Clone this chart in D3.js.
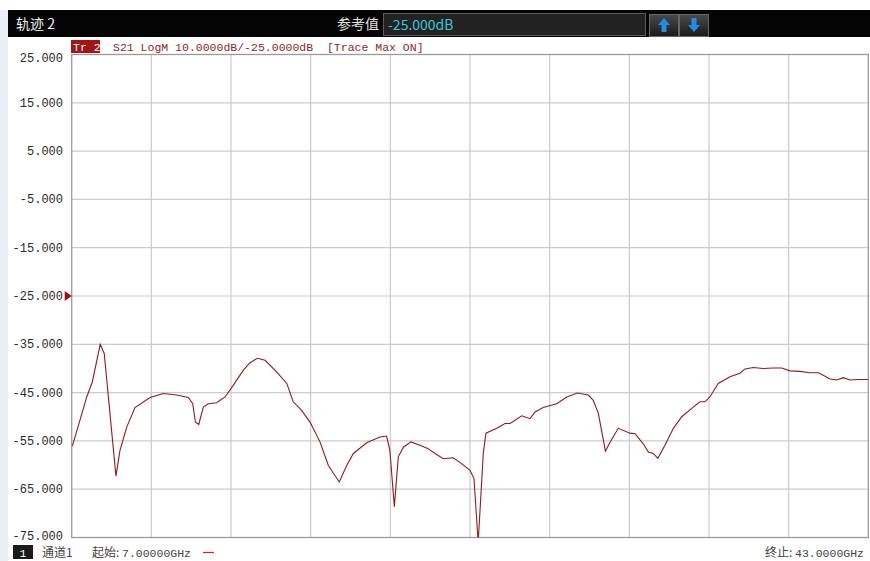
<!DOCTYPE html>
<html>
<head>
<meta charset="utf-8">
<script src="https://cdn.jsdelivr.net/npm/d3@7"></script>
<style>
  body { margin: 0; background: #fff; }
  svg { display: block; }
</style>
</head>
<body>
<div id="chart"></div>
<script>
// trace data (GHz / dB)
const freqGHz = [
  7.03, 7.68, 7.93, 8.29, 8.47, 9.00, 9.18, 9.49, 9.86, 10.54,
  11.14, 11.74, 12.27, 12.47, 12.59, 12.74, 12.95, 13.17, 13.55, 13.93,
  14.30, 14.75, 15.06, 15.39, 15.74, 16.26, 16.72, 17.01, 17.39, 17.77,
  18.22, 18.60, 19.09, 19.43, 19.73, 20.33, 20.93, 21.23, 21.38, 21.58,
  21.76, 21.99, 22.33, 22.74, 23.11, 23.42, 23.79, 24.24, 24.62, 25.00,
  25.18, 25.37, 25.53, 25.60, 25.72, 26.21, 26.58, 26.81, 27.34, 27.71,
  27.94, 28.31, 28.92, 29.37, 29.85, 30.35, 30.57, 30.80, 31.12, 31.40,
  31.70, 32.23, 32.46, 32.83, 33.06, 33.28, 33.49, 33.81, 34.19, 34.57,
  35.09, 35.39, 35.62, 35.84, 36.22, 36.75, 37.20, 37.43, 37.80, 38.25,
  38.71, 39.09, 39.46, 39.91, 40.36, 40.74, 40.96, 41.27, 41.57, 41.87,
  42.17, 42.55, 43.00
];
const s21dB = [
  -56.1, -45.9, -42.8, -35.0, -36.9, -62.3, -57.0, -52.1, -48.1, -46.0,
  -45.2, -45.5, -46.0, -47.3, -51.1, -51.6, -48.0, -47.3, -47.1, -45.9,
  -43.5, -40.4, -38.8, -37.9, -38.3, -40.7, -43.1, -46.9, -48.7, -51.1,
  -55.2, -60.1, -63.5, -60.1, -57.6, -55.4, -54.2, -54.0, -57.0, -68.6,
  -58.3, -56.3, -55.2, -55.9, -56.6, -57.6, -58.7, -58.5, -59.7, -61.1,
  -62.8, -76.0, -63.2, -57.6, -53.4, -52.4, -51.4, -51.4, -49.8, -50.4,
  -49.0, -48.1, -47.3, -45.9, -45.1, -45.5, -46.6, -49.3, -57.1, -54.7,
  -52.4, -53.4, -53.5, -55.6, -57.3, -57.6, -58.6, -55.9, -52.4, -50.0,
  -48.0, -46.9, -46.9, -45.9, -43.1, -41.7, -41.0, -40.1, -39.8, -40.0,
  -39.9, -39.9, -40.5, -40.6, -40.9, -40.9, -41.4, -42.2, -42.4, -41.9,
  -42.4, -42.3, -42.3
];
const yTicks = [25, 15, 5, -5, -15, -25, -35, -45, -55, -65, -75];
const xTicks = [7, 10.6, 14.2, 17.8, 21.4, 25, 28.6, 32.2, 35.8, 39.4, 43];
const refLevel = -25;

const width = 870, height = 561;
const plot = { left: 71.7, right: 868.3, top: 54.5, bottom: 537.5 };
const mono = "'Liberation Mono', 'DejaVu Sans Mono', monospace";
const sans = "'Noto Sans CJK SC', 'Noto Sans', sans-serif";
const traceColor = "#8e1c1c";

const svg = d3.select("#chart").append("svg")
  .attr("width", width)
  .attr("height", height);

// left pale strip like the instrument frame
svg.append("rect")
  .attr("x", 0).attr("y", 10).attr("width", 8).attr("height", height - 10)
  .attr("fill", "#e9eef7");

// top black title bar
svg.append("rect")
  .attr("x", 8).attr("y", 10).attr("width", width - 8).attr("height", 27)
  .attr("fill", "#050505");

svg.append("text")
  .attr("x", 16).attr("y", 29)
  .style("font-family", sans).style("font-size", "14px")
  .attr("fill", "#f0f0f0")
  .text("轨迹 2");

svg.append("text")
  .attr("x", 337).attr("y", 29)
  .style("font-family", sans).style("font-size", "14px")
  .attr("fill", "#e0e0e0")
  .text("参考值");

svg.append("rect")
  .attr("x", 383.5).attr("y", 13.5).attr("width", 262).attr("height", 22)
  .attr("fill", "#222").attr("stroke", "#5a5a5a");
svg.append("text")
  .attr("x", 388).attr("y", 30)
  .style("font-family", sans).style("font-size", "14px")
  .attr("fill", "#38c8d8")
  .text("-25.000dB");

// up / down buttons
const defs = svg.append("defs");
const grad = defs.append("linearGradient").attr("id", "btn").attr("x1", 0).attr("x2", 0).attr("y1", 0).attr("y2", 1);
grad.append("stop").attr("offset", "0%").attr("stop-color", "#4a4a4a");
grad.append("stop").attr("offset", "100%").attr("stop-color", "#1a1a1a");

[649, 679].forEach((bx, i) => {
  svg.append("rect")
    .attr("x", bx + 0.5).attr("y", 14.5).attr("width", 29).attr("height", 22)
    .attr("fill", "url(#btn)").attr("stroke", "#666");
  const cx = bx + 15, up = i === 0;
  const d = up
    ? `M${cx},18 L${cx + 6},25 L${cx + 2.5},25 L${cx + 2.5},32 L${cx - 2.5},32 L${cx - 2.5},25 L${cx - 6},25 Z`
    : `M${cx},32 L${cx + 6},25 L${cx + 2.5},25 L${cx + 2.5},18 L${cx - 2.5},18 L${cx - 2.5},25 L${cx - 6},25 Z`;
  svg.append("path").attr("d", d).attr("fill", "#1d8fe6");
});

// scales
const x = d3.scaleLinear().domain([7, 43]).range([plot.left, plot.right]);
const y = d3.scaleLinear().domain([-75, 25]).range([plot.bottom, plot.top]);

// plot background + grid
svg.append("rect")
  .attr("x", plot.left).attr("y", plot.top)
  .attr("width", plot.right - plot.left).attr("height", plot.bottom - plot.top)
  .attr("fill", "#fff");

svg.append("g").selectAll("line")
  .data(xTicks.slice(1, -1))
  .enter().append("line")
  .attr("x1", (d) => x(d)).attr("x2", (d) => x(d))
  .attr("y1", plot.top).attr("y2", plot.bottom)
  .attr("stroke", "#cbcbcb").attr("stroke-width", 1.2);

svg.append("g").selectAll("line")
  .data(yTicks.slice(1, -1))
  .enter().append("line")
  .attr("x1", plot.left).attr("x2", plot.right)
  .attr("y1", (d) => y(d)).attr("y2", (d) => y(d))
  .attr("stroke", "#cbcbcb").attr("stroke-width", 1.2);

svg.append("rect")
  .attr("x", plot.left).attr("y", plot.top)
  .attr("width", plot.right - plot.left).attr("height", plot.bottom - plot.top)
  .attr("fill", "none").attr("stroke", "#9a9a9a").attr("stroke-width", 1.3);

// y labels (top one pushed down, bottom one lifted so they stay on screen)
svg.append("g").selectAll("text")
  .data(yTicks)
  .enter().append("text")
  .attr("x", 63)
  .attr("y", (d) => (d === 25 ? y(d) + 7 : d === -75 ? y(d) + 2.5 : y(d) + 4))
  .attr("text-anchor", "end")
  .style("font-family", mono).style("font-size", "12px")
  .attr("fill", "#2a2a2a")
  .text((d) => d3.format(".3f")(d).replace("−", "-"));

// reference marker
svg.append("path")
  .attr("d", `M${plot.left - 7},${y(refLevel) - 5} L${plot.left},${y(refLevel)} L${plot.left - 7},${y(refLevel) + 5} Z`)
  .attr("fill", "#a01010");

// trace title row
svg.append("rect")
  .attr("x", 71).attr("y", 40).attr("width", 29).attr("height", 13)
  .attr("fill", "#a31414");
svg.append("text")
  .attr("x", 73).attr("y", 51)
  .style("font-family", mono).style("font-size", "11.5px")
  .attr("fill", "#fff")
  .text("Tr 2");
svg.append("text")
  .attr("x", 113).attr("y", 51)
  .attr("xml:space", "preserve")
  .style("white-space", "pre")
  .style("font-family", mono).style("font-size", "11.5px")
  .attr("fill", "#8a2a2a")
  .text("S21 LogM 10.0000dB/-25.0000dB  [Trace Max ON]");

// trace
defs.append("clipPath").attr("id", "plotclip")
  .append("rect")
  .attr("x", plot.left).attr("y", plot.top)
  .attr("width", plot.right - plot.left).attr("height", plot.bottom - plot.top);

const points = freqGHz.map((f, i) => [f, s21dB[i]]);
svg.append("path")
  .datum(points)
  .attr("clip-path", "url(#plotclip)")
  .attr("fill", "none")
  .attr("stroke", traceColor)
  .attr("stroke-width", 1.1)
  .attr("d", d3.line().x((d) => x(d[0])).y((d) => y(d[1])));

// bottom status row
svg.append("rect")
  .attr("x", 13).attr("y", 545).attr("width", 20).attr("height", 14)
  .attr("fill", "#1a1a1a");
svg.append("text")
  .attr("x", 23).attr("y", 556.5)
  .attr("text-anchor", "middle")
  .style("font-family", mono).style("font-size", "11.5px")
  .attr("fill", "#fff")
  .text("1");
svg.append("text")
  .attr("x", 42).attr("y", 557)
  .style("font-family", sans).style("font-size", "12px")
  .attr("fill", "#444")
  .text("通道1");
svg.append("text")
  .attr("x", 92).attr("y", 557)
  .style("font-family", sans).style("font-size", "12px")
  .attr("fill", "#444")
  .text("起始:");
svg.append("text")
  .attr("x", 122).attr("y", 557)
  .style("font-family", mono).style("font-size", "11.5px")
  .attr("fill", "#444")
  .text("7.00000GHz");
svg.append("line")
  .attr("x1", 203).attr("x2", 214).attr("y1", 552.5).attr("y2", 552.5)
  .attr("stroke", "#c03030").attr("stroke-width", 1.3);
svg.append("text")
  .attr("x", 765).attr("y", 557)
  .style("font-family", sans).style("font-size", "12px")
  .attr("fill", "#444")
  .text("终止:");
svg.append("text")
  .attr("x", 795).attr("y", 557)
  .style("font-family", mono).style("font-size", "11.5px")
  .attr("fill", "#444")
  .text("43.0000GHz");
</script>
</body>
</html>
